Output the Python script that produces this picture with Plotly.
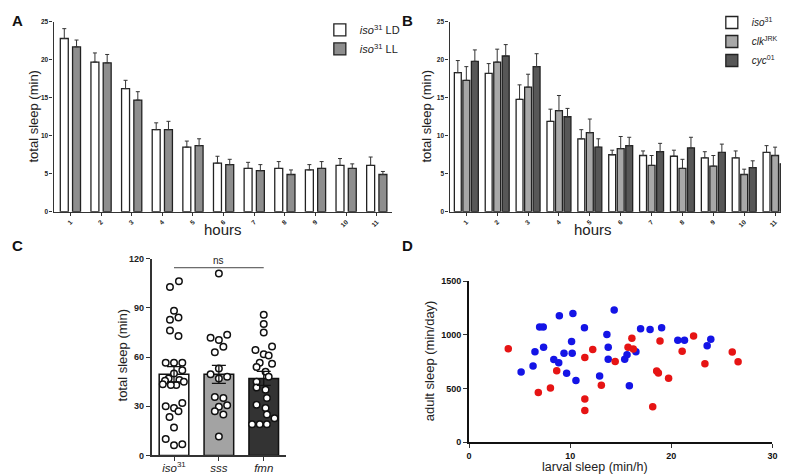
import plotly.graph_objects as go

# ---------------- data ----------------
hours = list(range(1, 12))
hour_labels = [str(h) for h in hours]

# Panel A
ld_sleep = [22.8, 19.7, 16.2, 10.8, 8.5, 6.4, 5.7, 5.7, 5.5, 6.1, 6.1]
ld_err = [1.3, 1.2, 1.1, 0.9, 0.8, 0.9, 0.8, 0.9, 0.7, 0.9, 1.1]
ll_sleep = [21.7, 19.6, 14.7, 10.8, 8.7, 6.2, 5.4, 4.9, 5.7, 5.7, 4.9]
ll_err = [0.9, 1.1, 1.1, 1.1, 0.9, 0.7, 0.8, 0.6, 0.9, 0.6, 0.4]

# Panel B
iso_sleep = [18.3, 18.2, 14.8, 11.9, 9.6, 7.5, 7.4, 7.3, 7.1, 7.1, 7.8]
iso_err = [1.6, 1.3, 1.9, 1.6, 1.2, 0.6, 0.6, 0.8, 0.8, 0.9, 0.9]
clk_sleep = [17.3, 19.7, 16.4, 13.3, 10.4, 8.3, 6.1, 5.7, 6.0, 4.9, 7.4]
clk_err = [1.8, 1.7, 1.7, 2.0, 1.8, 1.6, 1.3, 1.2, 1.4, 0.7, 1.1]
cyc_sleep = [19.8, 20.5, 19.1, 12.5, 8.5, 8.7, 7.9, 8.4, 7.8, 5.8, 6.3]
cyc_err = [1.5, 1.5, 1.7, 1.1, 1.1, 1.1, 1.1, 1.4, 1.1, 0.9, 1.2]

# Panel C
c_categories = ["<i>iso</i><sup>31</sup>", "<i>sss</i>", "<i>fmn</i>"]
c_mean = [49.5, 49.5, 47.0]
c_sem = [4.7, 5.5, 4.3]
iso_pts = [106.3, 102.7, 88.2, 84.2, 82.8, 76.2, 72.8, 56.5, 56.5, 56.5, 52.0, 50.0,
           47.0, 46.0, 45.5, 45.0, 43.5, 43.0, 43.0, 32.0, 30.0, 29.0, 27.0, 23.5,
           17.1, 10.1, 6.8, 6.2]
iso_jit = [0.11, -0.09, 0.0, 0.1, -0.09, -0.09, 0.1, -0.185, 0.0, 0.185, 0.185, 0.0,
           -0.12, 0.12, -0.2, 0.22, -0.25, 0.05, -0.07, 0.185, -0.185, 0.0, 0.1, -0.1,
           0.0, -0.185, 0.185, 0.0]
sss_pts = [111.0, 73.6, 71.8, 70.4, 66.3, 62.9, 53.0, 49.5, 48.0, 47.0, 35.6, 35.0,
           30.6, 29.7, 27.0, 25.0, 11.5]
sss_jit = [0.0, 0.185, -0.185, 0.0, 0.1, -0.09, 0.0, -0.185, 0.185, 0.0, -0.09, 0.1,
           0.185, 0.0, -0.09, 0.1, 0.0]
fmn_pts = [85.8, 80.2, 75.0, 66.5, 64.3, 61.7, 60.9, 56.5, 56.0, 54.0, 51.0, 48.0,
           45.0, 41.4, 40.0, 35.0, 31.0, 29.0, 25.0, 22.7, 19.1, 19.1, 19.1]
fmn_jit = [0.0, 0.0, 0.0, 0.185, -0.185, 0.0, 0.11, -0.09, 0.185, -0.16, 0.04, 0.11,
           -0.16, -0.16, 0.04, 0.07, -0.16, 0.04, 0.07, 0.24, -0.26, -0.09, 0.07]
ns_level = 114.5

# Panel D
blue_x = [5.15, 6.33, 6.52, 6.98, 7.34, 7.37, 8.38, 8.87, 8.93, 9.39, 9.65, 10.2,
          10.14, 10.27, 10.57, 11.41, 12.91, 13.63, 13.76, 13.76, 14.35, 15.39, 15.62,
          15.85, 16.5, 16.96, 17.9, 19.04, 20.64, 21.3, 23.54, 23.9]
blue_y = [654, 709, 843, 1074, 1074, 885, 770, 739, 1177, 828, 642, 828,
          937, 1199, 575, 1065, 615, 1004, 885, 773, 1232, 773, 815,
          526, 843, 1056, 1050, 1065, 949, 949, 898, 958]
red_x = [3.88, 6.85, 8.05, 8.67, 11.45, 11.45, 11.45, 12.23, 13.08, 14.45, 15.72,
         16.1, 16.24, 18.55, 18.72, 18.88, 18.16, 19.73, 21.07, 22.2, 23.32, 26.02, 26.6]
red_y = [870, 462, 505, 666, 788, 402, 295, 864, 529, 751, 885,
         967, 867, 663, 645, 943, 329, 596, 846, 989, 730, 839, 748]

# ---------------- layout helpers ----------------
W, H = 789, 474
FONT = "Liberation Sans, Arial, sans-serif"


def dx(a, b):
    return [a / W, b / W]


def dy(top, bottom):
    return [1 - bottom / H, 1 - top / H]


fig = go.Figure()

err_style = dict(type="data", symmetric=False, color="#333333", thickness=1, width=2)

# Panel A bars
for name, vals, errs, color, off in [
    ("<i>iso</i><sup>31</sup> LD", ld_sleep, ld_err, "#ffffff", -0.33),
    ("<i>iso</i><sup>31</sup> LL", ll_sleep, ll_err, "#8e8e8e", 0.07),
]:
    fig.add_trace(go.Bar(
        x=hours, y=vals, name=name, width=0.26, offset=off,
        marker=dict(color=color, line=dict(color="#222222", width=1.3)),
        error_y=dict(array=errs, arrayminus=[0] * len(errs), **err_style),
        xaxis="x", yaxis="y", legend="legend",
    ))

# Panel B bars
for name, vals, errs, color, off in [
    ("<i>iso</i><sup>31</sup>", iso_sleep, iso_err, "#ffffff", -0.388),
    ("<i>clk</i><sup>JRK</sup>", clk_sleep, clk_err, "#a8a8a8", -0.112),
    ("<i>cyc</i><sup>01</sup>", cyc_sleep, cyc_err, "#575757", 0.164),
]:
    fig.add_trace(go.Bar(
        x=hours, y=vals, name=name, width=0.224, offset=off,
        marker=dict(color=color, line=dict(color="#222222", width=1.3)),
        error_y=dict(array=errs, arrayminus=[0] * len(errs), **err_style),
        xaxis="x2", yaxis="y2", legend="legend2",
    ))

# Panel C
c_idx = list(range(len(c_categories)))
fig.add_trace(go.Bar(
    x=c_idx, y=c_mean, width=0.66, showlegend=False,
    marker=dict(color=["#ffffff", "#a3a3a3", "#333333"], line=dict(color="#111111", width=1.5)),
    xaxis="x3", yaxis="y3",
))
for i, (pts, jit) in enumerate([(iso_pts, iso_jit), (sss_pts, sss_jit), (fmn_pts, fmn_jit)]):
    fig.add_trace(go.Scatter(
        x=[c_idx[i] + j for j in jit], y=pts, mode="markers", showlegend=False,
        marker=dict(size=6.5, color="#ffffff", line=dict(color="#111111", width=1.5)),
        xaxis="x3", yaxis="y3",
    ))
fig.add_trace(go.Scatter(
    x=c_idx, y=c_mean, mode="markers", showlegend=False,
    marker=dict(size=0.1, color="rgba(0,0,0,0)"),
    error_y=dict(type="data", array=c_sem, color="#111111", thickness=1.3, width=7),
    xaxis="x3", yaxis="y3",
))
fig.add_trace(go.Scatter(
    x=[c_idx[0], c_idx[-1]], y=[ns_level, ns_level], mode="lines", showlegend=False,
    line=dict(color="#444444", width=1), xaxis="x3", yaxis="y3",
))
fig.add_annotation(x=(c_idx[0] + c_idx[-1]) / 2, y=ns_level, xref="x3", yref="y3",
                   text="ns", showarrow=False, yanchor="bottom", yshift=0,
                   font=dict(family=FONT, size=10, color="#222222"))

# Panel D
fig.add_trace(go.Scatter(x=blue_x, y=blue_y, mode="markers", showlegend=False,
                         marker=dict(size=7.5, color="#1414e6"), xaxis="x4", yaxis="y4"))
fig.add_trace(go.Scatter(x=red_x, y=red_y, mode="markers", showlegend=False,
                         marker=dict(size=7.5, color="#e61414"), xaxis="x4", yaxis="y4"))

axis_common = dict(showline=True, linecolor="#333333", linewidth=1.3, ticks="outside",
                   ticklen=3, tickcolor="#333333", showgrid=False, zeroline=False,
                   fixedrange=True)
small_bold = dict(family=FONT, size=6.5, color="#222222", weight="bold")

fig.update_layout(
    width=W, height=H, margin=dict(l=0, r=0, t=0, b=0),
    paper_bgcolor="white", plot_bgcolor="white",
    font=dict(family=FONT, color="#222222"),
    barmode="overlay",
    xaxis=dict(domain=dx(43, 385), range=[0.45, 11.5], tickvals=hours, ticktext=hour_labels,
               tickangle=-45, tickfont=small_bold, anchor="y", **axis_common),
    yaxis=dict(domain=dy(9, 203), range=[0, 25], dtick=5, tickfont=small_bold, anchor="x",
               **axis_common),
    xaxis2=dict(domain=dx(443, 785), range=[0.455, 11.42], tickvals=hours, ticktext=hour_labels,
                tickangle=-45, tickfont=small_bold, anchor="y2", **axis_common),
    yaxis2=dict(domain=dy(9, 203), range=[0, 25], dtick=5, tickfont=small_bold, anchor="x2",
                **axis_common),
    xaxis3=dict(domain=dx(142, 278), range=[-0.5, 2.5], tickvals=c_idx, ticktext=c_categories,
                tickfont=dict(family=FONT, size=11.5, color="#222222"), anchor="y3",
                ticklabelstandoff=-3,
                **{**axis_common, "linewidth": 1.5, "ticklen": 4}),
    yaxis3=dict(domain=dy(251, 452), range=[0, 120], dtick=30, anchor="x3",
                tickfont=dict(family=FONT, size=9, color="#222222", weight="bold"),
                **{**axis_common, "linewidth": 1.5, "ticklen": 4}),
    xaxis4=dict(domain=dx(462.7, 769.3), range=[0, 30], dtick=10, anchor="y4",
                tickfont=dict(family=FONT, size=9, color="#111111", weight="bold"),
                **{**axis_common, "linewidth": 2, "linecolor": "#111111", "ticklen": 4}),
    yaxis4=dict(domain=dy(274, 438.3), range=[0, 1500], dtick=500, anchor="x4",
                tickfont=dict(family=FONT, size=9, color="#111111", weight="bold"),
                **{**axis_common, "linewidth": 2, "linecolor": "#111111", "ticklen": 4}),
    legend=dict(x=312 / W, y=1 - 27 / H, xanchor="left", yanchor="middle",
                font=dict(family=FONT, size=11, color="#222222"), bgcolor="rgba(255,255,255,0)",
                tracegroupgap=0, itemwidth=30),
    legend2=dict(x=708 / W, y=1 - 29 / H, xanchor="left", yanchor="middle",
                 font=dict(family=FONT, size=10, color="#222222"), bgcolor="rgba(255,255,255,0)",
                 tracegroupgap=0, itemwidth=30),
)

# axis titles and panel letters
texts = [
    ("total sleep (min)", 23, 106, 13, -90),
    ("hours", 214, 221, 15, 0),
    ("total sleep (min)", 420, 106, 13, -90),
    ("hours", 588, 221, 15, 0),
    ("total sleep (min)", 113, 350, 13, -90),
    ("adult sleep (min/day)", 423, 355, 13, -90),
    ("larval sleep (min/h)", 590, 464, 12.5, 0),
]
for t, x, y, s, ang in texts:
    fig.add_annotation(text=t, x=x / W, y=1 - y / H, xref="paper", yref="paper",
                       showarrow=False, textangle=ang, xanchor="center", yanchor="middle",
                       font=dict(family=FONT, size=s, color="#222222"))

for t, x, y in [("A", 7, 8), ("B", 401, 8), ("C", 7, 238), ("D", 401, 238)]:
    fig.add_annotation(text="<b>%s</b>" % t, x=x / W, y=1 - y / H, xref="paper", yref="paper",
                       showarrow=False, xanchor="center", yanchor="middle",
                       font=dict(family=FONT, size=15, color="#111111"))

fig.write_html("out.html")
